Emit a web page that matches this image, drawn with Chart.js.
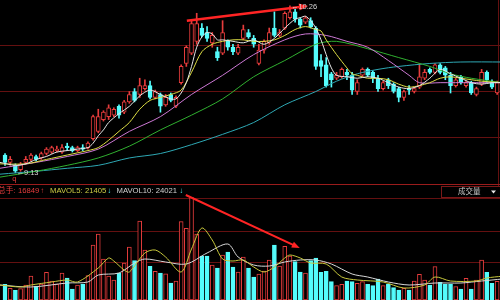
<!DOCTYPE html>
<html lang="zh">
<head>
<meta charset="UTF-8" />
<title>K线 成交量</title>
<script src="https://cdn.jsdelivr.net/npm/chart.js"></script>
<style>
  body { margin: 0; background: #000; overflow: hidden; }
  canvas { position: absolute; left: 0; display: block; }
  #price { top: 0; }
  #vol { top: 186px; }
</style>
</head>
<body>
<canvas id="price" width="500" height="186"></canvas>
<canvas id="vol" width="500" height="114"></canvas>
<script>
// daily candles, one entry per session
const openP = [
  9.25, 9.20, 9.18, 9.15, 9.20, 9.22, 9.24, 9.23, 9.26, 9.27,
  9.28, 9.27, 9.31, 9.30, 9.28, 9.30, 9.30, 9.36, 9.41, 9.49,
  9.51, 9.52, 9.58, 9.54, 9.61, 9.68, 9.66, 9.70, 9.72, 9.64,
  9.66, 9.59, 9.66, 9.58, 9.74, 9.87, 9.94, 10.02, 10.11, 10.08,
  10.01, 9.95, 9.94, 10.02, 9.98, 9.94, 10.04, 10.08, 10.04, 9.87,
  9.96, 10.01, 10.11, 10.06, 10.11, 10.18, 10.22, 10.17, 10.15, 10.16,
  10.11, 9.89, 9.86, 9.80, 9.77, 9.78, 9.81, 9.79, 9.68, 9.79,
  9.83, 9.81, 9.77, 9.70, 9.76, 9.73, 9.70, 9.64, 9.70, 9.68,
  9.71, 9.77, 9.83, 9.81, 9.86, 9.84, 9.79, 9.72, 9.78, 9.72,
  9.74, 9.66, 9.73, 9.81, 9.74, 9.67
];
const closeP = [
  9.20, 9.22, 9.14, 9.19, 9.22, 9.25, 9.22, 9.26, 9.29, 9.30,
  9.29, 9.30, 9.30, 9.28, 9.30, 9.29, 9.33, 9.51, 9.51, 9.54,
  9.57, 9.56, 9.52, 9.61, 9.66, 9.62, 9.72, 9.72, 9.64, 9.68,
  9.58, 9.64, 9.62, 9.64, 9.85, 9.98, 10.14, 10.14, 10.06, 10.04,
  10.06, 9.91, 10.08, 9.98, 9.95, 9.98, 10.10, 10.05, 10.00, 9.96,
  10.02, 10.08, 10.06, 10.08, 10.21, 10.22, 10.17, 10.13, 10.18, 10.12,
  9.85, 9.85, 9.72, 9.76, 9.79, 9.83, 9.79, 9.69, 9.74, 9.83,
  9.79, 9.77, 9.70, 9.74, 9.72, 9.68, 9.64, 9.68, 9.69, 9.70,
  9.78, 9.81, 9.81, 9.86, 9.81, 9.79, 9.72, 9.76, 9.74, 9.74,
  9.67, 9.70, 9.81, 9.76, 9.71, 9.74
];
const highP = [
  9.26, 9.24, 9.19, 9.20, 9.24, 9.26, 9.25, 9.27, 9.30, 9.31,
  9.31, 9.32, 9.33, 9.31, 9.31, 9.32, 9.34, 9.52, 9.56, 9.55,
  9.59, 9.57, 9.59, 9.62, 9.68, 9.70, 9.77, 9.76, 9.75, 9.69,
  9.67, 9.66, 9.67, 9.65, 9.86, 9.99, 10.16, 10.21, 10.14, 10.12,
  10.08, 9.98, 10.16, 10.03, 10.00, 10.00, 10.13, 10.10, 10.06, 10.00,
  10.03, 10.11, 10.22, 10.10, 10.22, 10.26, 10.24, 10.18, 10.19, 10.18,
  10.12, 9.93, 9.91, 9.81, 9.81, 9.84, 9.83, 9.81, 9.76, 9.84,
  9.84, 9.82, 9.79, 9.75, 9.77, 9.74, 9.71, 9.69, 9.72, 9.71,
  9.87, 9.83, 9.84, 9.87, 9.87, 9.85, 9.81, 9.77, 9.79, 9.75,
  9.75, 9.71, 9.83, 9.82, 9.76, 9.75
];
const lowP = [
  9.18, 9.18, 9.13, 9.14, 9.19, 9.21, 9.21, 9.22, 9.25, 9.26,
  9.27, 9.26, 9.28, 9.27, 9.27, 9.28, 9.29, 9.35, 9.40, 9.48,
  9.49, 9.51, 9.50, 9.53, 9.60, 9.61, 9.64, 9.69, 9.63, 9.63,
  9.54, 9.58, 9.61, 9.57, 9.73, 9.85, 9.93, 10.00, 10.05, 10.02,
  9.98, 9.89, 9.93, 9.96, 9.93, 9.93, 10.03, 10.04, 9.98, 9.86,
  9.94, 10.00, 10.05, 10.05, 10.10, 10.17, 10.15, 10.11, 10.14, 10.11,
  9.83, 9.78, 9.71, 9.71, 9.76, 9.77, 9.76, 9.66, 9.66, 9.78,
  9.78, 9.74, 9.68, 9.69, 9.70, 9.67, 9.61, 9.62, 9.66, 9.67,
  9.70, 9.76, 9.80, 9.80, 9.80, 9.76, 9.67, 9.71, 9.73, 9.71,
  9.66, 9.65, 9.72, 9.74, 9.70, 9.66
];
const volume = [
  14100, 10400, 8600, 10200, 13500, 21600, 12600, 14400, 24800, 17100,
  14400, 24300, 19800, 9900, 13500, 14400, 22000, 49500, 59400, 36900,
  21600, 18000, 24300, 33300, 47700, 35500, 71100, 45000, 30200, 25800,
  24300, 23500, 15300, 17100, 70500, 64400, 92200, 59400, 39600, 39600,
  31500, 28800, 40500, 43200, 29700, 25200, 38700, 28800, 20700, 23400,
  26100, 36000, 49500, 30600, 48200, 39600, 34500, 25200, 24300, 35400,
  37800, 24800, 25700, 16500, 12900, 14100, 17100, 16500, 15000, 16500,
  14100, 12900, 18900, 12900, 14100, 11100, 9000, 10500, 9000, 17100,
  23100, 18000, 13500, 30000, 15900, 14100, 14100, 12000, 9900, 19500,
  9900, 18000, 36000, 24900, 15000, 16849
];

// moving averages: [session index, value]
const ma5 = [[-1,9.20],[2,9.18],[4,9.19],[6,9.22],[8,9.24],[10,9.27],[12,9.28],[14,9.29],[16,9.30],[17,9.33],
  [18,9.38],[19,9.42],[20,9.47],[22,9.53],[24,9.58],[26,9.65],[28,9.69],[30,9.66],[32,9.63],[33,9.63],
  [34,9.67],[35,9.74],[36,9.85],[37,9.98],[38,10.05],[39,10.08],[40,10.07],[41,10.03],[42,10.03],[44,10.02],
  [46,10.01],[48,10.03],[50,10.00],[52,10.04],[54,10.11],[56,10.17],[57,10.18],[58,10.19],[59,10.16],[60,10.11],
  [61,10.03],[62,9.93],[63,9.84],[64,9.79],[66,9.78],[68,9.77],[70,9.78],[72,9.77],[74,9.74],[76,9.71],
  [78,9.70],[80,9.72],[82,9.77],[84,9.83],[86,9.80],[88,9.77],[90,9.74],[92,9.73],[94,9.74],[96,9.74]];
const ma10 = [[-1,9.19],[4,9.19],[8,9.22],[12,9.25],[16,9.28],[18,9.30],[20,9.35],[22,9.41],[24,9.47],[26,9.56],
  [28,9.62],[30,9.64],[32,9.66],[34,9.69],[36,9.81],[38,9.95],[40,10.00],[42,10.02],[44,10.03],[46,10.03],
  [48,10.02],[50,10.02],[52,10.03],[54,10.06],[56,10.10],[58,10.12],[60,10.10],[61,10.09],[62,10.03],[64,9.93],
  [66,9.84],[67,9.80],[68,9.79],[70,9.77],[72,9.77],[74,9.76],[76,9.73],[78,9.71],[80,9.72],[82,9.74],
  [84,9.77],[86,9.78],[88,9.77],[90,9.76],[92,9.75],[96,9.74]];
const ma20 = [[-1,9.16],[6,9.20],[12,9.24],[18,9.29],[24,9.41],[30,9.51],[36,9.66],[42,9.79],[48,9.93],[54,10.03],
  [58,10.07],[62,10.06],[66,10.02],[70,9.98],[74,9.89],[78,9.79],[80,9.74],[84,9.74],[90,9.74],[96,9.74]];
const ma30 = [[-1,9.10],[6,9.14],[12,9.18],[18,9.23],[24,9.31],[30,9.42],[36,9.52],[42,9.63],[48,9.78],[54,9.89],
  [60,10.00],[64,10.02],[70,9.97],[76,9.91],[82,9.85],[86,9.80],[90,9.77],[96,9.74]];
const ma60 = [[-1,9.12],[6,9.14],[12,9.16],[18,9.18],[24,9.23],[30,9.26],[36,9.32],[42,9.39],[48,9.47],[54,9.59],
  [60,9.68],[64,9.75],[68,9.80],[72,9.83],[76,9.85],[82,9.87],[88,9.88],[96,9.88]];

const mavol5 = [[-1,13500],[3,11700],[5,13500],[9,16200],[12,18000],[14,16200],[18,28800],[20,37800],[21,35100],[23,27000],
  [24,25200],[27,42300],[29,45000],[31,38700],[34,25200],[36,45900],[38,64800],[40,54000],[42,36900],[44,35100],
  [46,36000],[48,29700],[50,25200],[52,29700],[54,37800],[55,40500],[57,37800],[59,33300],[62,32400],[65,20700],
  [68,18000],[73,16200],[77,10800],[81,13500],[83,20700],[86,17100],[91,17100],[93,19800],[96,21405]];
const mavol10 = [[-1,13500],[5,11700],[12,15300],[16,16200],[18,22500],[22,24300],[25,33300],[27,36900],[31,34200],[35,32400],
  [39,42300],[43,50400],[45,38700],[48,31500],[51,30600],[54,34200],[57,36000],[60,36000],[63,32400],[67,23400],
  [70,20700],[74,16200],[78,13500],[83,15300],[88,15300],[92,17100],[96,18900]];

const totalHands = 16849;
const mavol5Last = 21405;
const mavol10Last = 24021;

const priceGrid = [9.051, 9.366, 9.677, 9.992];
const volGrid = [34200, 62100, 91800];

// hand-drawn trend arrows, in data units
const trendPrice = [[35.1, 10.16], [58.5, 10.26]];
const trendVol = [[34.9, 94500], [56.9, 46800]];

const RED = '#e63c3c';
const CYAN = '#54fcfc';
const GRID = '#641010';
const FONT = '"Liberation Sans", "Noto Sans CJK SC", sans-serif';

const idx = openP.map((_, i) => i);
const isUp = i => closeP[i] >= openP[i];

function pts(list) {
  return list.map(p => ({ x: p[0], y: p[1] }));
}

function maLine(list, color) {
  return {
    type: 'line', data: pts(list), borderColor: color, borderWidth: 1,
    pointRadius: 0, tension: 0.3, order: 0
  };
}

function xAxis(border) {
  return {
    type: 'linear', min: -0.97, max: 95.55, offset: false,
    display: border, ticks: { display: false }, border: { display: false },
    grid: { color: GRID, drawTicks: false, offset: false },
    afterBuildTicks: s => { s.ticks = [{ value: 95.27 }]; },
    afterFit: s => { s.height = 0; }
  };
}

function yAxis(min, max, grid, edge) {
  return {
    min: min, max: max,
    ticks: { display: false }, border: { display: false },
    grid: { color: c => (c.tick && c.tick.value === edge ? '#9a1c1c' : GRID), drawTicks: false },
    afterBuildTicks: s => { s.ticks = grid.map(v => ({ value: v })); },
    afterFit: s => { s.width = 0; }
  };
}

function arrow(ctx, x1, y1, x2, y2, w, head) {
  const a = Math.atan2(y2 - y1, x2 - x1);
  const c = Math.cos(a), s = Math.sin(a);
  ctx.strokeStyle = '#ff2424';
  ctx.fillStyle = '#ff2424';
  ctx.lineWidth = w;
  ctx.beginPath();
  ctx.moveTo(x1, y1);
  ctx.lineTo(x2 - head * 0.7 * c, y2 - head * 0.7 * s);
  ctx.stroke();
  ctx.beginPath();
  ctx.moveTo(x2, y2);
  ctx.lineTo(x2 - head * c + head * 0.4 * s, y2 - head * s - head * 0.4 * c);
  ctx.lineTo(x2 - head * c - head * 0.4 * s, y2 - head * s + head * 0.4 * c);
  ctx.closePath();
  ctx.fill();
}

const priceNotes = {
  id: 'priceNotes',
  afterDatasetsDraw(chart) {
    const { ctx, scales: { x, y } } = chart;
    ctx.save();
    arrow(ctx, x.getPixelForValue(trendPrice[0][0]), y.getPixelForValue(trendPrice[0][1]),
      x.getPixelForValue(trendPrice[1][0]), y.getPixelForValue(trendPrice[1][1]), 2.5, 9);

    const hi = highP.indexOf(Math.max(...highP));
    const lo = lowP.indexOf(Math.min(...lowP));
    ctx.font = '7.5px ' + FONT;
    ctx.textBaseline = 'middle';
    ctx.fillStyle = '#d6d6d6';
    ctx.fillText('←' + highP[hi].toFixed(2), x.getPixelForValue(hi) + 1, y.getPixelForValue(highP[hi]) + 1);
    ctx.fillText('←' + lowP[lo].toFixed(2), x.getPixelForValue(lo) + 1, y.getPixelForValue(lowP[lo]));
    ctx.fillStyle = RED;
    ctx.textAlign = 'center';
    ctx.fillText('q', x.getPixelForValue(lo) - 1, y.getPixelForValue(lowP[lo]) + 6);
    ctx.restore();
  }
};

const volNotes = {
  id: 'volNotes',
  afterDatasetsDraw(chart) {
    const { ctx, scales: { x, y } } = chart;
    ctx.save();
    arrow(ctx, x.getPixelForValue(trendVol[0][0]), y.getPixelForValue(trendVol[0][1]),
      x.getPixelForValue(trendVol[1][0]), y.getPixelForValue(trendVol[1][1]), 2, 8);

    ctx.font = '7.7px ' + FONT;
    ctx.textBaseline = 'middle';
    ctx.textAlign = 'right';
    ctx.fillStyle = RED;
    ctx.fillText('总手:', 15.5, 5);
    ctx.textAlign = 'left';
    ctx.fillText(String(totalHands), 18, 5);
    ctx.fillText('↑', 40.5, 5);
    ctx.fillStyle = '#cccc44';
    ctx.fillText('MAVOL5: ' + mavol5Last, 50, 5);
    ctx.fillStyle = '#d0d0d0';
    ctx.fillText('MAVOL10: ' + mavol10Last, 116.5, 5);
    ctx.fillStyle = CYAN;
    ctx.fillText('↓', 107.5, 5);
    ctx.fillText('↓', 179.5, 5);

    // indicator selector box
    ctx.strokeStyle = '#7a1818';
    ctx.lineWidth = 1;
    ctx.strokeRect(441.5, 0.5, 60, 11);
    ctx.fillStyle = '#c8c8c8';
    ctx.font = '7.5px ' + FONT;
    ctx.fillText('成交量', 458, 6);
    ctx.fillStyle = '#e8e8e8';
    ctx.beginPath();
    ctx.moveTo(491, 4.5);
    ctx.lineTo(496, 4.5);
    ctx.lineTo(493.5, 7.5);
    ctx.closePath();
    ctx.fill();
    ctx.restore();
  }
};

const common = {
  responsive: false,
  animation: false,
  events: [],
  layout: { padding: 0 },
  plugins: { legend: { display: false }, tooltip: { enabled: false } }
};

new Chart(document.getElementById('price'), {
  type: 'bar',
  data: {
    datasets: [
      maLine(ma5, '#e6e6e6'),
      maLine(ma10, '#dede44'),
      maLine(ma20, '#cc78d4'),
      maLine(ma30, '#30b030'),
      maLine(ma60, '#2ea8b4'),
      {
        data: idx.map(i => ({ x: i, y: [openP[i], closeP[i]] })),
        backgroundColor: idx.map(i => (isUp(i) ? '#000' : CYAN)),
        borderColor: idx.map(i => (isUp(i) ? RED : CYAN)),
        borderWidth: 1, borderSkipped: false, barThickness: 4, grouped: false, order: 1
      },
      {
        data: idx.map(i => ({ x: i, y: [lowP[i], highP[i]] })),
        backgroundColor: idx.map(i => (isUp(i) ? RED : CYAN)),
        barThickness: 1, grouped: false, order: 2
      }
    ]
  },
  options: {
    ...common,
    scales: { x: xAxis(true), y: yAxis(9.04, 10.30, priceGrid, priceGrid[0]) }
  },
  plugins: [priceNotes]
});

new Chart(document.getElementById('vol'), {
  type: 'bar',
  data: {
    datasets: [
      maLine(mavol5, '#c8c83c'),
      maLine(mavol10, '#d8d8d8'),
      {
        data: idx.map(i => ({ x: i, y: volume[i] })),
        backgroundColor: idx.map(i => (isUp(i) ? '#000' : CYAN)),
        borderColor: idx.map(i => (isUp(i) ? RED : CYAN)),
        borderWidth: 1, borderSkipped: false, barThickness: 4, grouped: false, order: 1
      }
    ]
  },
  options: {
    ...common,
    scales: { x: xAxis(false), y: yAxis(0, 102600, volGrid, null) }
  },
  plugins: [volNotes]
});
</script>
</body>
</html>
